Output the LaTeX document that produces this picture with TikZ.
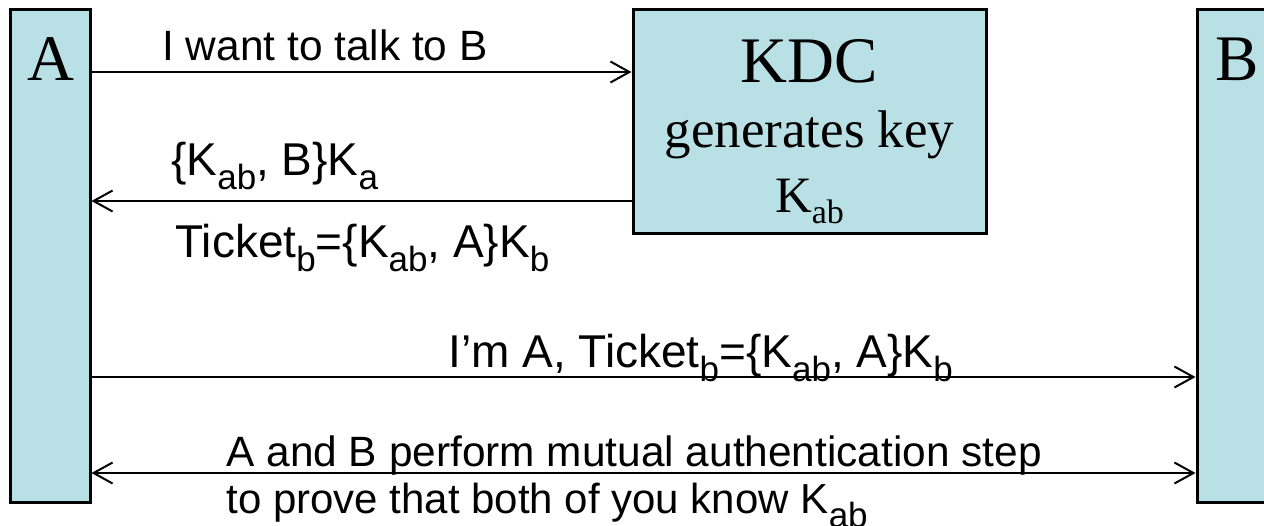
\documentclass[tikz,border=0pt]{standalone}
\usepackage{fontspec}
\setmainfont{Liberation Serif}
\newfontfamily\arialfont{Liberation Sans}
\usetikzlibrary{arrows.meta}
\definecolor{boxfill}{RGB}{185,224,228}

% subscripts for the message labels and for the key inside the KDC box
\newcommand{\msgsub}[1]{\raisebox{-7pt}{\fontsize{17.5}{17.5}\selectfont #1}}
\newcommand{\keysub}[1]{\raisebox{-5.5pt}{\fontsize{17}{17}\selectfont #1}}

\begin{document}
\begin{tikzpicture}[x=0.5pt,y=-0.5pt,
  party/.style={draw=black, line width=1.5pt, fill=boxfill, inner sep=0pt,
                minimum width=40pt, minimum height=246.5pt},
  kdcbox/.style={draw=black, line width=1.5pt, fill=boxfill, inner sep=0pt,
                 minimum width=176.5pt, minimum height=112pt},
  msg/.style={line width=1pt, -{Straight Barb[length=9.5pt,width=10.5pt,line width=1pt]}},
  biarrow/.style={line width=1pt, {Straight Barb[length=9.5pt,width=10.5pt,line width=1pt]}-{Straight Barb[length=9.5pt,width=10.5pt,line width=1pt]}},
  msgtext/.style={font=\arialfont\fontsize{21.2}{24}\selectfont, inner sep=0pt, anchor=base west},
  keytext/.style={font=\arialfont\fontsize{23}{26}\selectfont, inner sep=0pt, anchor=base west},
  bigserif/.style={font=\fontsize{32.5}{39}\selectfont, inner sep=0pt, anchor=base},
  smallserif/.style={font=\fontsize{26.5}{31}\selectfont, inner sep=0pt, anchor=base}]

\useasboundingbox (0,0) rectangle (1264,525);
\clip (0,0) rectangle (1264,525);

% the two parties and the key distribution centre
\node[party] (A) at (50,255.5) {};
\node[party] (B) at (1237,255.5) {};
\node[kdcbox] (KDC) at (809.5,121) {};

\node[bigserif] (Alabel) at (51,80) {A};
\node[bigserif] (Blabel) at (1237,80) {B};
\node[bigserif] (kdctitle) at (809.5,82) {KDC};
\node[smallserif] (kdcline) at (809.5,147) {generates key};
\node[smallserif, font=\fontsize{25.5}{30}\selectfont] (kdckey) at (809.5,212) {K\keysub{ab}};

% heights of the four messages
\coordinate (row1) at (0,72);
\coordinate (row2) at (0,201);
\coordinate (row3) at (0,377);
\coordinate (row4) at (0,473);

\draw[msg] (A.east |- row1) -- (KDC.west |- row1);
\draw[msg] (KDC.west |- row2) -- (A.east |- row2);
\draw[msg] (A.east |- row3) -- (B.west |- row3);
\draw[biarrow] (A.east |- row4) -- (B.west |- row4);

% message labels
\node[msgtext] (m1) at (162,60) {I want to talk to B};
\node[keytext] (m2) at (171,175) {\{K\msgsub{ab}, B\}K\msgsub{a}};
\node[keytext] (m3) at (175,257) {Ticket\msgsub{b}=\{K\msgsub{ab}, A\}K\msgsub{b}};
\node[keytext] (m4) at (448,367) {I’m A, Ticket\msgsub{b}=\{K\msgsub{ab}, A\}K\msgsub{b}};
\node[msgtext] (m5) at (226,466) {A and B perform mutual authentication step};
\node[msgtext, font=\arialfont\fontsize{21}{24}\selectfont] (m6) at (226,513) {to prove that both of you know K\msgsub{ab}};
\end{tikzpicture}
\end{document}
